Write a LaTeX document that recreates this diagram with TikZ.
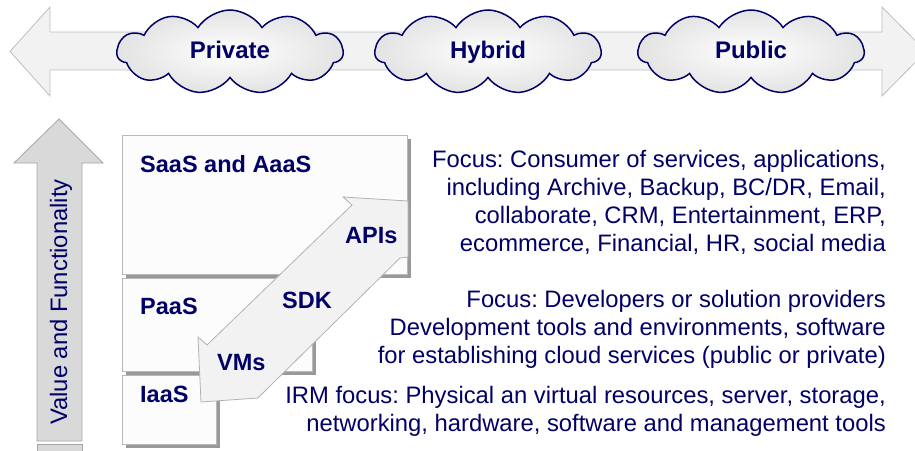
\documentclass[tikz,border=0pt]{standalone}
\usepackage{fontspec}
\setmainfont{Liberation Sans}
\usetikzlibrary{shapes.symbols, shadows, positioning, calc}

\definecolor{navytext}{HTML}{000066}
\definecolor{arrowfill}{HTML}{F2F2F2}
\definecolor{arrowline}{HTML}{BDBDBD}
\definecolor{valuefill}{HTML}{D9D9D9}
\definecolor{valueline}{HTML}{A6A6A6}
\definecolor{boxfill}{HTML}{FCFCFC}

\tikzset{
	cloudnode/.style={cloud, cloud puffs=11, cloud puff arc=115, aspect=2.7, draw=navytext, line width=1.5pt,
		inner color=white, outer color=gray!22, minimum width=226, minimum height=84, inner sep=0,
		text height=17, text depth=5, text=navytext, font=\fontsize{24}{28}\selectfont\bfseries},
	layerbox/.style={draw=gray!55, fill=boxfill, line width=1pt, inner sep=0, anchor=north west,
		drop shadow={shadow xshift=3pt, shadow yshift=-3pt, fill=gray!80, opacity=1}},
	layerlabel/.style={anchor=base west, inner sep=0, text=navytext, font=\fontsize{23.5}{28}\selectfont\bfseries},
	infotext/.style={anchor=north east, inner sep=0, align=right, text=navytext},
}

\begin{document}
\frenchspacing
\begin{tikzpicture}[x=1pt, y=-1pt, font=\fontsize{23.8}{28}\selectfont]
	\useasboundingbox (0,0) rectangle (915,450);

	% Deployment axis
	\draw[fill=arrowfill, draw=arrowline, line width=0.8pt]
		(10,51.5) -- (50,7) -- (50,32) -- (882,32) -- (882,7) -- (926,51.5)
		-- (882,96) -- (882,70) -- (50,70) -- (50,96) -- cycle;

	% Clouds
	\node[cloudnode] (private) at (230,52) {Private};
	\node[cloudnode] (hybrid) at (488,52) {Hybrid};
	\node[cloudnode] (public) at (751,52) {Public};

	% Value axis
	\draw[fill=valuefill, draw=valueline, line width=0.8pt]
		(37,441) -- (37,163) -- (14,163) -- (59,119) -- (103,163) -- (82,163) -- (82,441) -- cycle;
	\draw[fill=valuefill, draw=valueline, line width=0.8pt] (37,444) rectangle (82,453);
	\node[rotate=90, text=navytext, font=\fontsize{23.8}{28}\selectfont] (value) at (61,302) {Value and Functionality};

	% Service layers
	\node[layerbox, minimum width=285, minimum height=139] (saas) at (122,135) {};
	\node[layerbox, minimum width=190, minimum height=93] (paas) at (122,278) {};
	\node[layerbox, minimum width=94, minimum height=69] (iaas) at (122,375) {};

	% Interfaces arrow
	\draw[fill=arrowfill, draw=gray!60, line width=0.8pt]
		(207,345) -- (198,337) -- (201,402) -- (258,398) -- (266,390) -- (400,258)
		-- (408,257) -- (408,201) -- (343,197) -- (352,205) -- cycle;

	\node[layerlabel] (saaslbl) at (140,172) {SaaS and AaaS};
	\node[layerlabel] (paaslbl) at (140,314) {PaaS};
	\node[layerlabel] (iaaslbl) at (140,402) {IaaS};
	\node[layerlabel] (apis) at (345,243) {APIs};
	\node[layerlabel] (sdk) at (282,308) {SDK};
	\node[layerlabel] (vms) at (217,370) {VMs};

	% Focus texts
	\node[infotext] (saasfocus) at (886,150) {Focus: Consumer of services, applications,\\
		including Archive, Backup, BC/DR, Email,\\
		collaborate, CRM, Entertainment, ERP,\\
		ecommerce, Financial, HR, social media};
	\node[infotext] (paasfocus) at (886,290) {Focus: Developers or solution providers\\
		Development tools and environments, software\\
		for establishing cloud services (public or private)};
	\node[infotext] (iaasfocus) at (886,386) {IRM focus: Physical an virtual resources, server, storage,\\
		networking, hardware, software and management tools};
\end{tikzpicture}
\end{document}
